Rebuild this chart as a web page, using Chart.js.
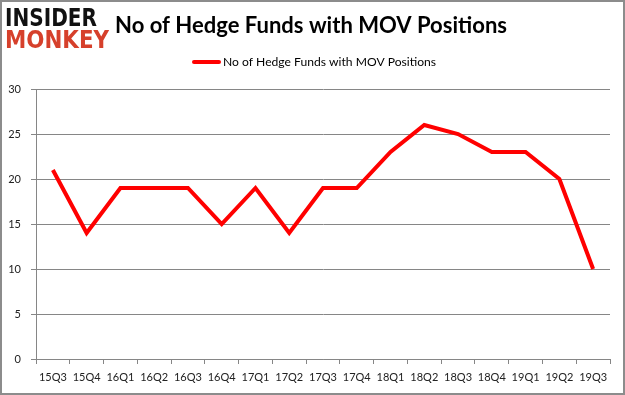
<!DOCTYPE html>
<html><head><meta charset="utf-8">
<script src="https://cdn.jsdelivr.net/npm/chart.js@4/dist/chart.umd.min.js"></script>
<style>html,body{margin:0;padding:0;background:#fff}#wrap{width:625px;height:395px;position:relative}</style>
</head><body><div id="wrap"><canvas id="c" width="625" height="395"></canvas></div>
<script>
const categories = ["15Q3","15Q4","16Q1","16Q2","16Q3","16Q4","17Q1","17Q2","17Q3","17Q4","18Q1","18Q2","18Q3","18Q4","19Q1","19Q2","19Q3"];
const hedgeFunds = [21,14,19,19,19,15,19,14,19,19,23,26,25,23,23,20,10];
const yTicks = [0,5,10,15,20,25,30];
const seriesName = "No of Hedge Funds with MOV Positions";
const titleText = "No of Hedge Funds with MOV Positions";
const FONT = "Lato, 'Open Sans', sans-serif";

function fitText(ctx, text, x, y, width){
  const w = ctx.measureText(text).width;
  ctx.save();
  ctx.translate(x, y);
  ctx.scale(width / w, 1);
  ctx.fillText(text, 0, 0);
  ctx.restore();
}

const deco = {
  id: 'deco',
  beforeDraw(chart){
    const ctx = chart.ctx;
    ctx.save();
    ctx.fillStyle = '#fff';
    ctx.fillRect(0,0,chart.width,chart.height);
    ctx.restore();
  },
  afterDraw(chart){
    const ctx = chart.ctx;
    ctx.save();
    ctx.strokeStyle = '#8c8c8c';
    ctx.lineWidth = 2;
    ctx.strokeRect(1,1,chart.width-2,chart.height-2);
    ctx.textBaseline = 'alphabetic';
    ctx.textAlign = 'left';
    ctx.font = "bold 24px 'DejaVu Sans', sans-serif";
    ctx.fillStyle = '#111';
    fitText(ctx, 'INSIDER', 5, 26, 92);
    ctx.fillStyle = '#d6402b';
    fitText(ctx, 'MONKEY', 5, 48, 104);
    ctx.fillStyle = '#000';
    ctx.font = "bold 22px " + FONT;
    fitText(ctx, titleText, 115, 33, 392);
    ctx.strokeStyle = '#ff0000';
    ctx.lineWidth = 4;
    ctx.lineCap = 'round';
    ctx.beginPath(); ctx.moveTo(194,62); ctx.lineTo(219,62); ctx.stroke();
    ctx.fillStyle = '#000';
    ctx.font = "12px " + FONT;
    ctx.textBaseline = 'middle';
    fitText(ctx, seriesName, 223, 62, 213);
    ctx.restore();
  }
};

new Chart(document.getElementById('c'), {
  type: 'line',
  data: { labels: categories, datasets: [{ label: seriesName, data: hedgeFunds, borderColor: '#ff0000', backgroundColor: '#ff0000', borderWidth: 4, pointRadius: 0, tension: 0, borderJoinStyle: 'miter' }] },
  options: {
    responsive: false, animation: false,
    layout: { padding: { top: 89, right: 15, left: 0, bottom: 0 } },
    plugins: { legend: { display: false }, tooltip: { enabled: false }, title: { display: false } },
    scales: {
      x: {
        offset: true,
        grid: { offset: true, drawOnChartArea: false, color: '#868686', tickLength: 5, tickColor: '#868686' },
        border: { color: '#868686', width: 1 },
        ticks: { color: '#222', font: { family: FONT, size: 11 }, padding: 7, maxRotation: 0, autoSkip: false },
        afterFit(s){ s.height = 36; }
      },
      y: {
        min: 0, max: 30,
        afterBuildTicks(s){ s.ticks = yTicks.map(v => ({ value: v })); },
        grid: { color: '#868686', tickLength: 5, tickColor: '#868686' },
        border: { color: '#868686', width: 1 },
        ticks: { color: '#222', font: { family: FONT, size: 11 }, padding: 10 },
        afterFit(s){ s.width = 36; }
      }
    }
  },
  plugins: [deco]
});
</script></body></html>
